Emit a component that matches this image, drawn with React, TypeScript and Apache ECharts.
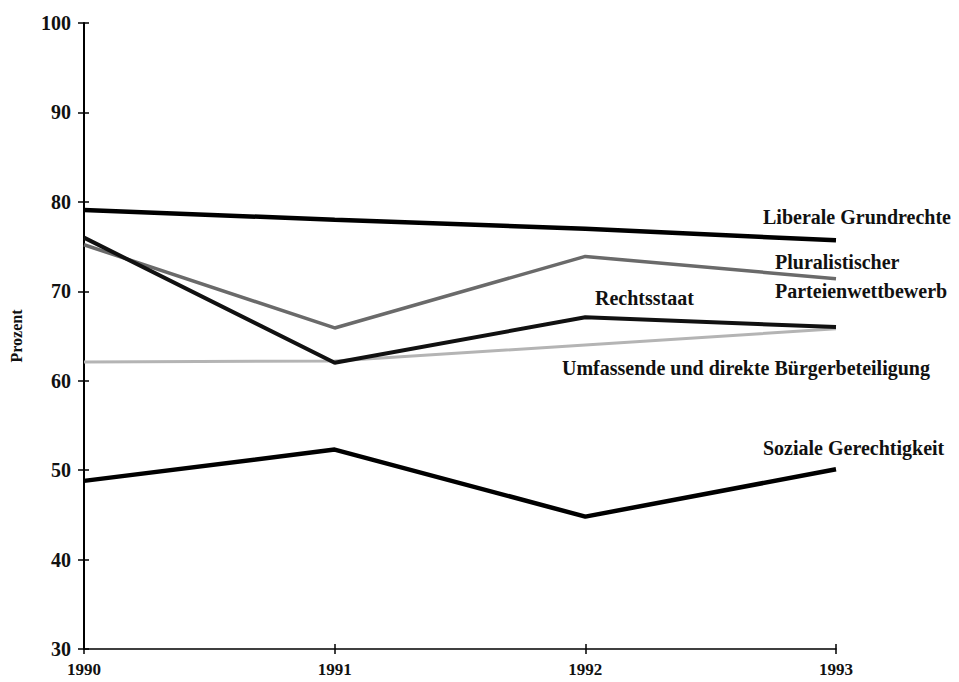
import React, { useEffect, useRef } from "react";
import * as echarts from "echarts";

const years = ["1990", "1991", "1992", "1993"];
const liberale = [79.1, 78.0, 77.0, 75.7];
const pluralistisch = [75.2, 65.9, 73.9, 71.4];
const rechtsstaat = [76.0, 62.0, 67.1, 66.0];
const umfassend = [62.1, 62.2, 64.0, 65.8];
const sozial = [48.8, 52.3, 44.8, 50.1];

const FONT = "Liberation Serif";

export default function App() {
  const ref = useRef<HTMLDivElement>(null);
  useEffect(() => {
    if (!ref.current) return;
    const chart = echarts.init(ref.current, undefined, { renderer: "svg" });
    const lbl = (text: string, x: number, y: number) => ({
      type: "text",
      x,
      y,
      style: {
        text,
        fontFamily: FONT,
        fontWeight: "bold",
        fontSize: 20,
        fill: "#111",
        textVerticalAlign: "middle",
      },
    });
    const yBase = {
      type: "value",
      min: 30,
      max: 100,
      interval: 10,
      splitLine: { show: false },
    };
    const xBase = {
      type: "category",
      data: years,
      boundaryGap: false,
      splitLine: { show: false },
    };
    const line = (name: string, data: number[], color: string, width: number) => ({
      name,
      type: "line",
      data,
      symbol: "none",
      lineStyle: { color, width },
      z: 3,
    });
    chart.setOption({
      animation: false,
      backgroundColor: "#fff",
      textStyle: { fontFamily: FONT },
      grid: { left: 82, right: 123, top: 23, bottom: 33 },
      xAxis: [
        {
          ...xBase,
          axisLine: { show: true, lineStyle: { color: "#000", width: 1.5 } },
          axisTick: { show: true, length: 5, lineStyle: { color: "#000", width: 1.5 } },
          axisLabel: {
            color: "#111",
            fontFamily: FONT,
            fontWeight: "bold",
            fontSize: 17,
            margin: 12,
          },
        },
        {
          ...xBase,
          position: "bottom",
          axisLine: { show: false },
          axisTick: { show: true, inside: true, length: 5, lineStyle: { color: "#000", width: 1.5 } },
          axisLabel: { show: false },
        },
      ],
      yAxis: [
        {
          ...yBase,
          name: "Prozent",
          nameLocation: "middle",
          nameGap: 60,
          nameTextStyle: {
            color: "#111",
            fontFamily: FONT,
            fontWeight: "bold",
            fontSize: 16,
          },
          axisLine: { show: true, lineStyle: { color: "#000", width: 2 } },
          axisTick: { show: true, length: 6, lineStyle: { color: "#000", width: 1.5 } },
          axisLabel: {
            color: "#111",
            fontFamily: FONT,
            fontWeight: "bold",
            fontSize: 20,
            margin: 13,
          },
        },
        {
          ...yBase,
          position: "left",
          axisLine: { show: false },
          axisTick: { show: true, inside: true, length: 5, lineStyle: { color: "#000", width: 1.5 } },
          axisLabel: { show: false },
        },
      ],
      series: [
        line("Umfassende und direkte Bürgerbeteiligung", umfassend, "#b4b4b4", 3),
        line("Pluralistischer Parteienwettbewerb", pluralistisch, "#6a6a6a", 3.5),
        line("Rechtsstaat", rechtsstaat, "#111", 4),
        line("Liberale Grundrechte", liberale, "#000", 4.5),
        line("Soziale Gerechtigkeit", sozial, "#000", 4.5),
      ],
      graphic: [
        lbl("Liberale Grundrechte", 763, 217),
        lbl("Pluralistischer", 775, 262),
        lbl("Parteienwettbewerb", 775, 291),
        lbl("Rechtsstaat", 595, 298),
        lbl("Umfassende und direkte Bürgerbeteiligung", 562, 368),
        lbl("Soziale Gerechtigkeit", 763, 448),
      ],
    });
    return () => chart.dispose();
  }, []);
  return (
    <div
      ref={ref}
      style={{ position: "fixed", left: 0, top: 0, width: 959, height: 682, background: "#fff" }}
    />
  );
}
